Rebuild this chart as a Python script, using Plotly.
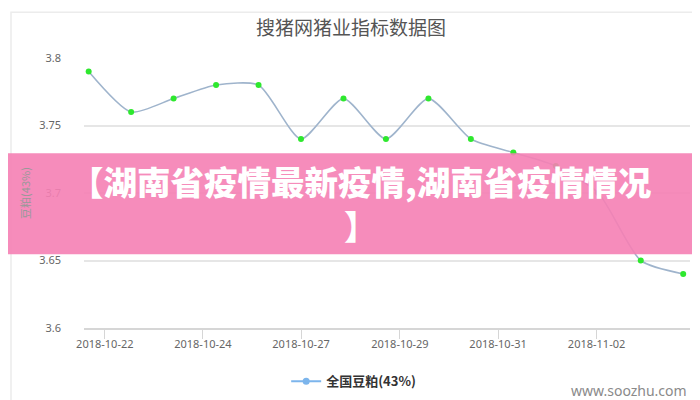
import plotly.graph_objects as go

# ---- data ----
point_index = list(range(15))
values = [3.79, 3.76, 3.77, 3.78, 3.78, 3.74, 3.77, 3.74, 3.77, 3.74, 3.73, 3.72, 3.70, 3.65, 3.64]
tick_labels = ["2018-10-22", "2018-10-24", "2018-10-27", "2018-10-29", "2018-10-31", "2018-11-02"]
tick_pos = [0.38, 2.69, 5.0, 7.33, 9.64, 11.96]
y_ticks = [3.6, 3.65, 3.7, 3.75, 3.8]
y_tick_text = ["3.6", "3.65", "3.7", "3.75", "3.8"]
series_name = "全国豆粕(43%)"
title_text = "搜猪网猪业指标数据图"
y_title = "豆粕(43%)"
banner_line1 = "【湖南省疫情最新疫情,湖南省疫情情况"
banner_line2 = "】"
watermark = "www.soozhu.com"

FONT = "Noto Sans CJK SC, Noto Sans, sans-serif"

fig = go.Figure()
fig.add_trace(go.Scatter(
    x=point_index, y=values, mode="lines+markers",
    line=dict(color="#9fb4cc", width=1.6, shape="spline", smoothing=0.65),
    marker=dict(color="#2ee82e", size=6),
    showlegend=False, hoverinfo="y",
))
# legend entry (series colour in legend)
fig.add_trace(go.Scatter(
    x=[None], y=[None], mode="lines+markers", name="<b>" + series_name + "</b>",
    line=dict(color="#7cb5ec", width=2), marker=dict(color="#7cb5ec", size=7),
))

L, R, T, B = 76, 18, 50, 72
PW, PH = 700 - L - R, 400 - T - B

def px_x(px):
    return (px - L) / PW

def px_y(py):
    return (400 - B - py) / PH

fig.update_layout(
    width=700, height=400,
    margin=dict(l=L, r=R, t=T, b=B),
    paper_bgcolor="white", plot_bgcolor="white",
    font=dict(family=FONT, color="#666666", size=11),
    title=dict(text=title_text, x=0.49, xanchor="center", y=1 - 20 / 400, yanchor="middle",
               font=dict(size=19, color="#555555", family=FONT)),
    xaxis=dict(range=[-0.11, 14.16], tickmode="array", tickvals=tick_pos, ticktext=tick_labels,
               showgrid=False, zeroline=False, showline=True, linecolor="#d6d6d6", linewidth=2,
               ticks="outside", ticklen=9, tickcolor="#d6d6d6", tickwidth=1, ticklabelstandoff=-4,
               tickfont=dict(size=11, color="#666666", family="Noto Sans, sans-serif")),
    yaxis=dict(range=[3.6, 3.8], tickmode="array", tickvals=y_ticks, ticktext=y_tick_text,
               showgrid=True, gridcolor="#e6e6e6", gridwidth=2, zeroline=False, showline=False,
               ticks="", ticklabelstandoff=22,
               tickfont=dict(size=11, color="#666666", family="Noto Sans, sans-serif"),
               title=dict(text=y_title, standoff=6, font=dict(size=11, color="#999999", family=FONT))),
    legend=dict(orientation="h", x=0.445, xanchor="center", y=px_y(383), yanchor="middle",
                itemwidth=30, font=dict(size=13, color="#333333", family=FONT)),
)

# outer light frame
fig.add_shape(type="rect", xref="paper", yref="paper",
              x0=px_x(3), x1=px_x(690), y0=px_y(3), y1=px_y(420),
              line=dict(color="#ececec", width=1.5), fillcolor="rgba(0,0,0,0)", layer="below")

# pink banner
fig.add_shape(type="rect", xref="paper", yref="paper",
              x0=px_x(-5), x1=px_x(705), y0=px_y(252), y1=px_y(148),
              line=dict(width=0), fillcolor="rgba(245,128,180,0.9)", layer="above")
fig.add_annotation(xref="paper", yref="paper", x=px_x(353), y=px_y(199), xanchor="center", yanchor="middle",
                   text=banner_line1 + "<br>" + banner_line2, showarrow=False, align="center",
                   font=dict(size=33.5, color="white", family=FONT, weight=900))

# watermark
fig.add_annotation(xref="paper", yref="paper", x=px_x(681), y=px_y(392), xanchor="right", yanchor="middle",
                   text=watermark, showarrow=False,
                   font=dict(size=14, color="#8a8a8a", family="Noto Sans, sans-serif"))

fig.write_html("out.html")
